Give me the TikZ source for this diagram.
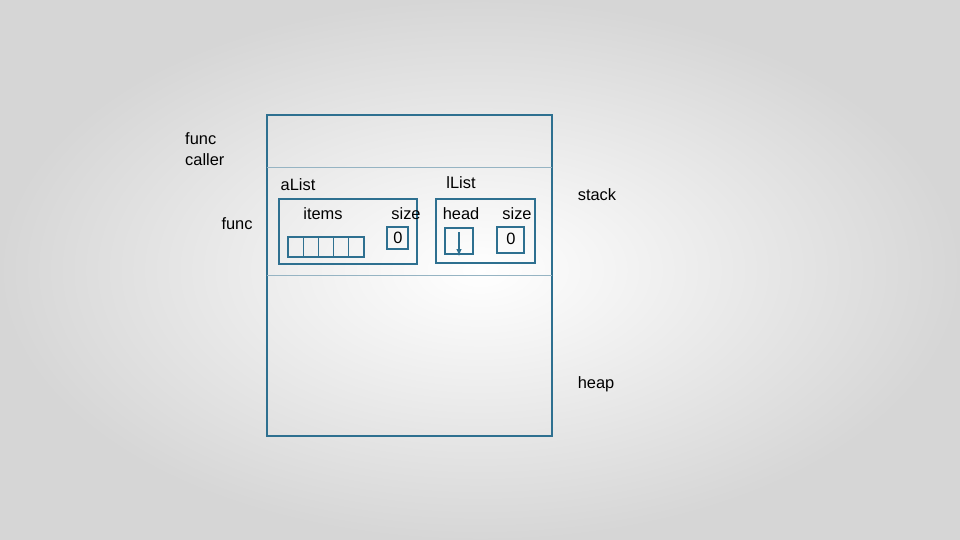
\documentclass[tikz,border=0pt]{standalone}
\usepackage{fontspec}
\setmainfont{Liberation Sans}
\definecolor{frameblue}{RGB}{46,112,144}
\definecolor{linegray}{RGB}{150,180,195}
\begin{document}
\begin{tikzpicture}[%
      x=0.03cm, y=-0.03cm,
      box/.style={draw=frameblue, line width=1.2pt},
      lbl/.style={font=\fontsize{14}{17}\selectfont, inner sep=0pt},
      ]
      \shade [inner color=white, outer color=black!16] (0,0) rectangle (960,540);
      \useasboundingbox (0,0) rectangle (960,540);
      % stack and heap
      \draw [box] (267,115) rectangle (552,436);
      \draw [color=linegray] (267,167) -- (552,167);
      \draw [color=linegray] (267,275) -- (552,275);
      % aList
      \draw [box] (279,199) rectangle (417,264);
      \foreach \i in {0,...,4}
        \draw [box, line width=1pt] (288+\i*15.2,237) rectangle ++(15.2,20);
      \draw [box] (387,227) rectangle (408,249);
      % lList
      \draw [box] (436,199) rectangle (535,263);
      \draw [box] (445,228) rectangle (473,254);
      \draw [color=frameblue, line width=1pt, -latex] (459,232) -- (459,256);
      \draw [box] (497,227) rectangle (524,253);
      
      \node [lbl, align=left, anchor=west] at (185,149) {func\\[1pt]caller};
      \node [lbl] at (237,224) {func};
      \node [lbl] at (298,185) {aList};
      \node [lbl] at (323,214) {items};
      \node [lbl] at (406,214) {size};
      \node [lbl] at (398,238) {0};
      \node [lbl] at (461,183) {lList};
      \node [lbl] at (461,214) {head};
      \node [lbl] at (517,214) {size};
      \node [lbl] at (511,239) {0};
      \node [lbl] at (597,195) {stack};
      \node [lbl] at (596,384) {heap};
      \end{tikzpicture}
\end{document}
